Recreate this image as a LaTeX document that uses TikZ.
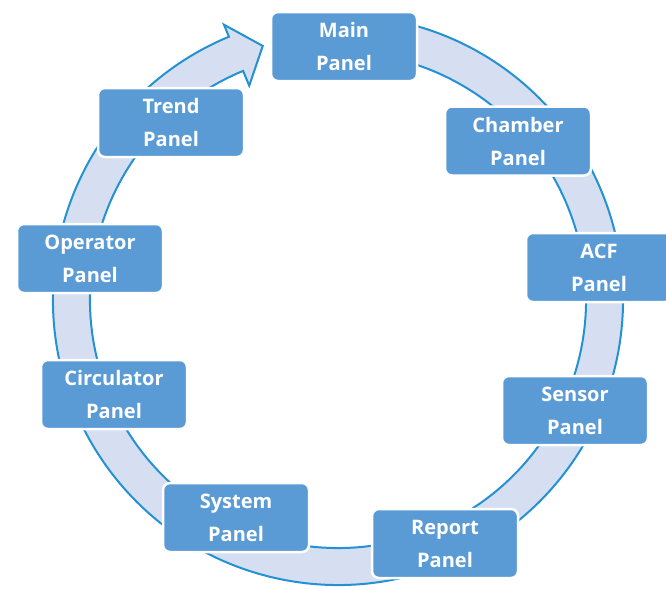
\documentclass[tikz,border=0pt]{standalone}
\usepackage{fontspec}
\setmainfont{Open Sans}
\definecolor{boxfill}{HTML}{5B9BD5}
\definecolor{ringfill}{HTML}{D5DFF1}
\definecolor{ringline}{HTML}{2491D3}
\begin{document}
\begin{tikzpicture}[x=1pt,y=-1pt,
  panel/.style={draw=white, line width=2.5pt, fill=boxfill, rounded corners=7pt,
    minimum width=146pt, minimum height=69pt, inner sep=0pt, align=center,
    text=white, font=\bfseries\fontsize{20}{33}\selectfont}]
\useasboundingbox (0,0) rectangle (666,589);
\fill[white] (0,0) rectangle (666,589);
% circular arrow
\begin{scope}[shift={(338,300)}]
\draw[ringline, fill=ringfill, line width=2pt, line join=miter]
  (280:285) arc[start angle=280, end angle=607.5, radius=285]
  -- (607.5:298) -- (613.5:265) -- (607.5:232) -- (607.5:248)
  arc[start angle=607.5, end angle=280, radius=248] -- cycle;
\end{scope}
\node[panel] (main) at (344,46.5) {Main\\Panel};
\node[panel] (chamber) at (518,141) {Chamber\\Panel};
\node[panel] (acf) at (599,267.5) {ACF\\Panel};
\node[panel] (sensor) at (575,410.5) {Sensor\\Panel};
\node[panel] (report) at (445,543.5) {Report\\Panel};
\node[panel] (system) at (236,517.5) {System\\Panel};
\node[panel] (circ) at (114,394.5) {Circulator\\Panel};
\node[panel] (operator) at (90,258.5) {Operator\\Panel};
\node[panel] (trend) at (171,122.5) {Trend\\Panel};
\end{tikzpicture}
\end{document}
